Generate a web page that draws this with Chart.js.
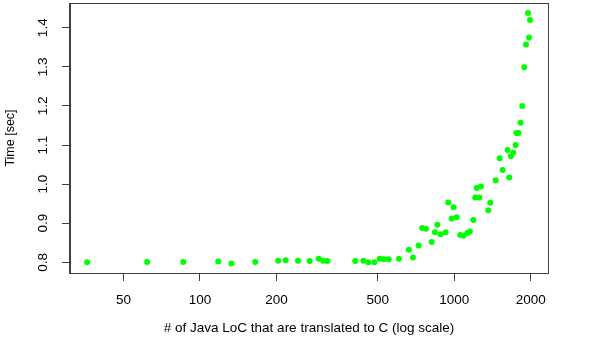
<!DOCTYPE html>
<html>
<head>
<meta charset="utf-8">
<script src="https://cdn.jsdelivr.net/npm/chart.js@4/dist/chart.umd.min.js"></script>
<style>
  html, body { margin: 0; padding: 0; background: #fff; }
  #wrap { width: 598px; height: 344px; }
</style>
</head>
<body>
<div id="wrap"><canvas id="c" width="598" height="344"></canvas></div>
<script>
// lines of Java code translated (x, log scale)
const loc = [36, 62, 86, 118, 133, 165, 203, 217, 243, 270, 293, 305, 317,
  408, 439, 459, 485, 509, 528, 552, 606, 663, 688, 724, 748, 774, 815, 839,
  858, 884, 925, 947, 976, 994, 1022, 1056, 1085, 1125, 1152, 1188, 1209,
  1224, 1254, 1273, 1361, 1385, 1454, 1508, 1549, 1620, 1645, 1670, 1706,
  1742, 1753, 1790, 1823, 1851, 1885, 1914, 1949, 1967, 1985];
// time in seconds
const timeSec = [0.800, 0.801, 0.801, 0.802, 0.797, 0.801, 0.804, 0.805,
  0.804, 0.803, 0.809, 0.804, 0.803, 0.803, 0.804, 0.800, 0.800, 0.809,
  0.808, 0.808, 0.809, 0.832, 0.812, 0.843, 0.888, 0.886, 0.852, 0.877,
  0.896, 0.872, 0.877, 0.953, 0.912, 0.941, 0.915, 0.870, 0.868, 0.875,
  0.879, 0.908, 0.966, 0.990, 0.966, 0.994, 0.933, 0.952, 1.010, 1.066,
  1.036, 1.087, 1.017, 1.071, 1.080, 1.100, 1.131, 1.131, 1.157, 1.200,
  1.299, 1.357, 1.438, 1.375, 1.420];

const xTicks = [50, 100, 200, 500, 1000, 2000];
const yTicks = [0.8, 0.9, 1.0, 1.1, 1.2, 1.3, 1.4];

const FONT = "'Liberation Sans', Arial, Helvetica, sans-serif";
const AXIS = "#404040";

// R-style box round the plot region
const boxPlugin = {
  id: "box",
  afterDraw(chart) {
    const a = chart.chartArea;
    const ctx = chart.ctx;
    ctx.save();
    ctx.strokeStyle = AXIS;
    ctx.lineWidth = 1;
    ctx.strokeRect(Math.round(a.left) - 0.5, Math.round(a.top) + 0.5,
      Math.round(a.right - a.left) + 1, Math.round(a.bottom - a.top));
    ctx.restore();
  }
};

new Chart(document.getElementById("c"), {
  type: "scatter",
  data: {
    datasets: [{
      data: loc.map((x, i) => ({ x: x, y: timeSec[i] })),
      backgroundColor: "#00ff00",
      borderWidth: 0,
      pointRadius: 3,
      pointHoverRadius: 3
    }]
  },
  options: {
    responsive: false,
    animation: false,
    events: [],
    layout: { padding: { top: 3, right: 50, left: 0, bottom: 0 } },
    plugins: { legend: { display: false }, tooltip: { enabled: false } },
    scales: {
      x: {
        type: "logarithmic",
        min: 30.83,
        max: 2336,
        afterBuildTicks: s => { s.ticks = xTicks.map(v => ({ value: v })); },
        afterFit: s => { s.height = 71; s.paddingLeft = 0; s.paddingRight = 0; },
        grid: { drawOnChartArea: false, drawTicks: true, tickLength: 8, color: AXIS },
        border: { display: true, color: AXIS },
        ticks: {
          autoSkip: false, maxRotation: 0, padding: 11, color: "#000",
          font: { family: FONT, size: 13.5 },
          callback: v => String(v)
        },
        title: {
          display: true,
          text: "# of Java LoC that are translated to C (log scale)",
          color: "#000",
          font: { family: FONT, size: 13.5 },
          padding: { top: 0, bottom: 8 }
        }
      },
      y: {
        min: 0.7726,
        max: 1.4633,
        afterBuildTicks: s => { s.ticks = yTicks.map(v => ({ value: v })); },
        afterFit: s => { s.width = 70; s.paddingTop = 0; s.paddingBottom = 0; },
        grid: { drawOnChartArea: false, drawTicks: true, tickLength: 8, color: AXIS },
        border: { display: true, color: AXIS },
        ticks: {
          autoSkip: false, minRotation: 90, maxRotation: 90, crossAlign: "center",
          padding: 9, color: "#000",
          font: { family: FONT, size: 13.5 },
          callback: v => v.toFixed(1)
        },
        title: {
          display: true,
          text: "Time [sec]",
          color: "#000",
          font: { family: FONT, size: 12.5 },
          padding: { top: 3.5, bottom: 0 }
        }
      }
    }
  },
  plugins: [boxPlugin]
});
</script>
</body>
</html>
